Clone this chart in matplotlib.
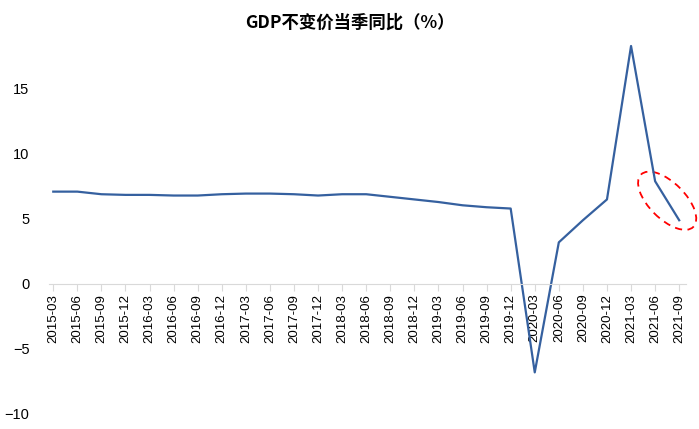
import numpy as np
import matplotlib
matplotlib.use('Agg')
import matplotlib.pyplot as plt
from matplotlib.patches import Ellipse
from matplotlib.transforms import ScaledTranslation

plt.rcParams['font.family'] = ['Liberation Sans', 'Noto Sans CJK SC', 'DejaVu Sans']

# 季度
quarters = ['2015-03', '2015-06', '2015-09', '2015-12',
            '2016-03', '2016-06', '2016-09', '2016-12',
            '2017-03', '2017-06', '2017-09', '2017-12',
            '2018-03', '2018-06', '2018-09', '2018-12',
            '2019-03', '2019-06', '2019-09', '2019-12',
            '2020-03', '2020-06', '2020-09', '2020-12',
            '2021-03', '2021-06', '2021-09']
# GDP不变价当季同比 %
gdp_yoy = [7.1, 7.1, 6.9, 6.85, 6.85, 6.8, 6.8, 6.9,
           6.95, 6.95, 6.9, 6.8, 6.9, 6.9, 6.7, 6.5,
           6.3, 6.05, 5.9, 5.8, -6.8, 3.2, 4.9, 6.5,
           18.3, 7.9, 4.9]
y_ticks = [-10, -5, 0, 5, 10, 15]

fig = plt.figure(figsize=(6.99, 4.29), dpi=100)
ax = fig.add_axes([0.07, 0.035, 0.912, 0.879])

# 先设置横轴位置（会重置刻度）
for s in ['top', 'right', 'left']:
    ax.spines[s].set_visible(False)
ax.spines['bottom'].set_position(('data', 0))
ax.spines['bottom'].set_color('#d9d9d9')

x = np.arange(len(quarters))
ax.plot(x, gdp_yoy, color='#35609f', lw=1.6)

ax.set_xlim(-0.18, len(quarters) - 0.7)
ax.set_ylim(-10, 19)
ax.set_yticks(y_ticks)
ax.set_xticks(x)
ax.set_xticklabels(quarters, rotation=90, fontsize=9.5)
ax.tick_params(axis='x', length=5, color='#d9d9d9', pad=2)
ax.tick_params(axis='y', length=0, pad=14, labelsize=10.5)

# 红色虚线椭圆，标注最后两个点
xc = (x[-2] + x[-1]) / 2
yc = (gdp_yoy[-2] + gdp_yoy[-1]) / 2
tr = fig.dpi_scale_trans + ScaledTranslation(xc, yc, ax.transData)
ell = Ellipse((0, 0), 0.74, 0.36, angle=-45, transform=tr,
              fill=False, ec='red', ls=(0, (4, 3)), lw=1.3, clip_on=False)
ax.add_patch(ell)

fig.text(0.5, 0.948, 'GDP不变价当季同比（%）', ha='center', va='center',
         fontsize=12.5, fontweight='bold', family=['Noto Sans CJK SC', 'DejaVu Sans'])

fig.savefig('out.png', dpi=100)
